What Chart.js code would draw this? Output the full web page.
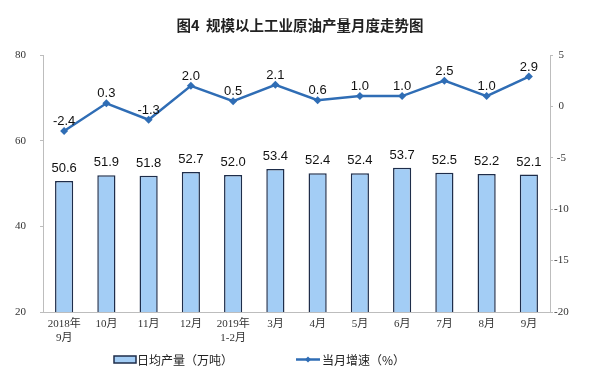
<!DOCTYPE html>
<html><head><meta charset="utf-8">
<script src="https://cdn.jsdelivr.net/npm/chart.js@4"></script>
<style>html,body{margin:0;padding:0;background:#fff}#wrap{width:600px;height:385px}</style>
</head><body><div id="wrap"><canvas id="c" width="600" height="385"></canvas></div>
<script>
const categories = [["2018年","9月"],"10月","11月","12月",["2019年","1-2月"],"3月","4月","5月","6月","7月","8月","9月"];
const dailyOutput = [50.6,51.9,51.8,52.7,52.0,53.4,52.4,52.4,53.7,52.5,52.2,52.1];
const monthlyGrowth = [-2.4,0.3,-1.3,2.0,0.5,2.1,0.6,1.0,1.0,2.5,1.0,2.9];
const leftTicks = [20,40,60,80];
const rightTicks = [-20,-15,-10,-5,0,5];
const titleText = "图4  规模以上工业原油产量月度走势图";
const barLegend = "日均产量（万吨）";
const lineLegend = "当月增速（%）";

const barColor = '#a3cdf5', barBorder = '#1e2d4a', lineColor = '#2f6db5';

const labelsPlugin = {
  id: 'labelsPlugin',
  afterDatasetsDraw(chart) {
    const ctx = chart.ctx;
    ctx.save();
    ctx.font = '13px "Liberation Sans", Arial, sans-serif';
    ctx.fillStyle = '#111';
    ctx.textAlign = 'center';
    ctx.textBaseline = 'bottom';
    chart.getDatasetMeta(0).data.forEach((el, i) => {
      ctx.fillText(dailyOutput[i].toFixed(1), el.x, el.y - 6);
    });
    chart.getDatasetMeta(1).data.forEach((el, i) => {
      ctx.fillText(monthlyGrowth[i].toFixed(1), el.x, el.y - 3);
    });
    // title
    ctx.font = 'bold 14.5px "Noto Sans CJK SC", sans-serif';
    ctx.fillStyle = '#222';
    ctx.textBaseline = 'middle';
    ctx.fillText(titleText, 300, 25);
    // legend
    ctx.font = '12px "Noto Sans CJK SC", sans-serif';
    ctx.textAlign = 'left';
    ctx.fillStyle = barColor;
    ctx.strokeStyle = barBorder;
    ctx.lineWidth = 1.5;
    ctx.fillRect(114, 356, 22, 7);
    ctx.strokeRect(114, 356, 22, 7);
    ctx.fillStyle = '#222';
    ctx.fillText(barLegend, 137, 360);
    ctx.strokeStyle = lineColor;
    ctx.lineWidth = 2.5;
    ctx.beginPath(); ctx.moveTo(296, 359.5); ctx.lineTo(320, 359.5); ctx.stroke();
    ctx.fillStyle = lineColor;
    ctx.beginPath(); ctx.moveTo(308, 356.5); ctx.lineTo(311, 359.5); ctx.lineTo(308, 362.5); ctx.lineTo(305, 359.5); ctx.closePath(); ctx.fill();
    ctx.fillStyle = '#222';
    ctx.fillText(lineLegend, 322, 360);
    ctx.restore();
  }
};

new Chart(document.getElementById('c'), {
  data: {
    labels: categories,
    datasets: [
      { type: 'bar', label: barLegend, data: dailyOutput, yAxisID: 'y', backgroundColor: barColor, borderColor: barBorder, borderWidth: 1.5, barPercentage: 0.43, categoryPercentage: 1.0, order: 2 },
      { type: 'line', label: lineLegend, data: monthlyGrowth, yAxisID: 'y1', borderColor: lineColor, backgroundColor: lineColor, borderWidth: 2.5, pointStyle: 'rectRot', pointRadius: 4, pointBackgroundColor: lineColor, pointBorderWidth: 0, tension: 0, order: 1 }
    ]
  },
  options: {
    responsive: false, animation: false,
    layout: { padding: { top: 55, left: 0, right: 0, bottom: 0 } },
    plugins: { legend: { display: false }, title: { display: false }, tooltip: { enabled: false } },
    scales: {
      x: {
        grid: { display: false, drawTicks: false },
        border: { color: '#bdbdbd', width: 1 },
        ticks: { color: '#333', font: { family: '"Liberation Serif", "Noto Sans CJK SC", serif', size: 11 }, padding: 6, maxRotation: 0, autoSkip: false },
        afterFit(s) { s.height = 73; }
      },
      y: {
        position: 'left', min: 20, max: 80,
        afterBuildTicks(s) { s.ticks = leftTicks.map(v => ({ value: v })); },
        grid: { drawOnChartArea: false, tickLength: 3, color: '#bdbdbd' },
        border: { color: '#bdbdbd', width: 1 },
        ticks: { color: '#333', font: { family: '"Liberation Serif", serif', size: 11 }, padding: 14 },
        afterFit(s) { s.width = 43; }
      },
      y1: {
        position: 'right', min: -20, max: 5,
        afterBuildTicks(s) { s.ticks = rightTicks.map(v => ({ value: v })); },
        grid: { drawOnChartArea: false, tickLength: 3, color: '#bdbdbd' },
        border: { color: '#bdbdbd', width: 1 },
        ticks: { color: '#333', font: { family: '"Liberation Serif", serif', size: 11 }, padding: 1, crossAlign: 'center' },
        afterFit(s) { s.width = 50; }
      }
    }
  },
  plugins: [labelsPlugin]
});
</script></body></html>
